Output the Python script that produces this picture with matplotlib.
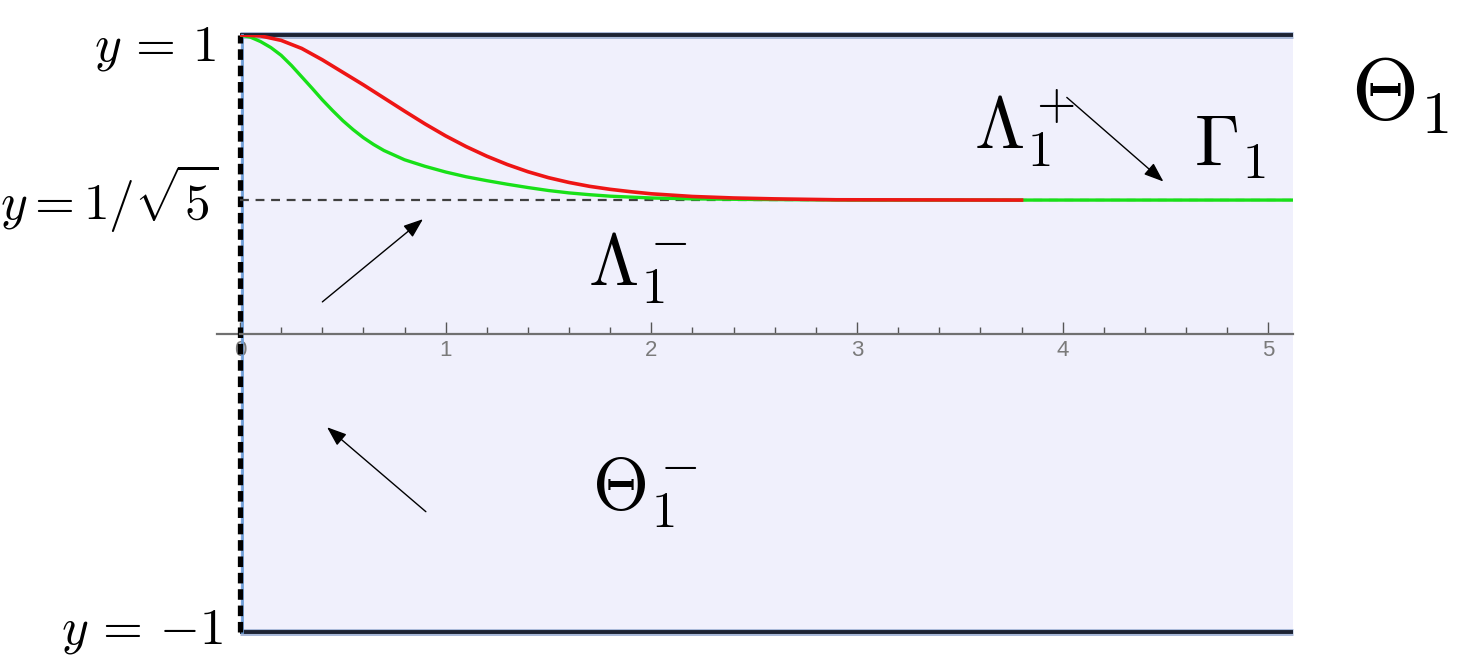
import matplotlib
matplotlib.use("Agg")
import matplotlib.pyplot as plt
import numpy as np

plt.rcParams['mathtext.fontset'] = 'cm'

# curve values
green_x = [0, 0.05, 0.1, 0.15, 0.2, 0.25, 0.3, 0.35, 0.4, 0.45, 0.5, 0.55, 0.6, 0.65, 0.7, 0.8, 0.9,
           1.0, 1.1, 1.2, 1.3, 1.4, 1.5, 1.6, 1.7, 1.8, 1.9, 2.0, 2.2, 2.5, 3.0, 5.12]
green_y = [1.0, 0.993, 0.978, 0.958, 0.932, 0.898, 0.860, 0.822, 0.783, 0.747, 0.713, 0.683, 0.656,
           0.633, 0.613, 0.582, 0.560, 0.541, 0.525, 0.512, 0.500, 0.489, 0.479, 0.471, 0.465, 0.460,
           0.457, 0.454, 0.451, 0.449, 0.447, 0.447]
red_x = [0, 0.1, 0.2, 0.3, 0.4, 0.5, 0.6, 0.7, 0.8, 0.9, 1.0, 1.1, 1.2, 1.3, 1.4, 1.5, 1.6, 1.7,
         1.8, 1.9, 2.0, 2.2, 2.4, 2.6, 2.9, 3.8]
red_y = [1.0, 0.997, 0.982, 0.955, 0.917, 0.875, 0.833, 0.789, 0.745, 0.702, 0.662, 0.626, 0.594,
         0.566, 0.542, 0.522, 0.506, 0.493, 0.483, 0.475, 0.468, 0.459, 0.454, 0.451, 0.448, 0.447]

y_star = 1 / np.sqrt(5)
x_max = 5.12
major_ticks = [0, 1, 2, 3, 4, 5]
minor_ticks = np.arange(0, 5.2, 0.2)

fig = plt.figure(figsize=(14.62, 6.66), dpi=100)
ax = fig.add_axes([240 / 1462, 34 / 666, 1053 / 1462, 597 / 666])
ax.set_facecolor('#f0f0fc')
ax.set_xlim(0, x_max)
ax.set_ylim(-1, 1)
ax.set_yticks([])
for s in ['top', 'right', 'left']:
    ax.spines[s].set_visible(False)
ax.spines['bottom'].set_position(('data', 0))
ax.spines['bottom'].set_color('#707070')
ax.spines['bottom'].set_linewidth(1.6)
ax.plot([-0.11, 0], [0, 0], color='#707070', lw=1.6, clip_on=False)

ax.set_xticks(major_ticks)
ax.set_xticks(minor_ticks, minor=True)
ax.tick_params(axis='x', which='major', direction='in', length=9, width=1, color='#555555',
               labelsize=16, labelcolor='#7a7a7a', pad=5)
ax.tick_params(axis='x', which='minor', direction='in', length=5, width=1, color='#555555')
for lab in ax.get_xticklabels():
    lab.set_family('Liberation Sans')

# boundary lines
for yb in [1, -1]:
    ax.plot([0, x_max], [yb, yb], color='#a8b8d8', lw=5, clip_on=False, solid_capstyle='butt')
    ax.plot([0, x_max], [yb, yb], color='#1c2233', lw=2.8, clip_on=False, solid_capstyle='butt')
ax.plot([0.012, 0.012], [-1, 1], color='#6f9fd8', lw=2, clip_on=False)
ax.plot([0, 0], [-1, 1], color='black', lw=3.8, ls=(0, (2.0, 1.1)), clip_on=False)

ax.plot([0, x_max], [y_star, y_star], color='#404040', lw=1.6, ls=(0, (4, 3)))
ax.plot(green_x, green_y, color='#18e018', lw=2.4)
ax.plot(red_x, red_y, color='#ee1515', lw=2.6)

# arrows
arr = dict(arrowstyle='-|>,head_length=1.2,head_width=0.45', color='black', lw=1)
ax.annotate('', xy=(0.90, 0.389), xytext=(0.39, 0.10), arrowprops=arr)
ax.annotate('', xy=(0.413, -0.308), xytext=(0.914, -0.603), arrowprops=arr)
ax.annotate('', xy=(4.50, 0.503), xytext=(4.01, 0.797), arrowprops=arr)

# labels
ax.text(1.69, 0.161, r'$\Lambda_1^-$', fontsize=52, va='baseline', ha='left')
ax.text(1.71, -0.59, r'$\Theta_1^-$', fontsize=52, va='baseline', ha='left')
ax.text(3.57, 0.62, r'$\Lambda_1^+$', fontsize=52, va='baseline', ha='left')
ax.text(4.64, 0.559, r'$\Gamma_1$', fontsize=52, va='baseline', ha='left')
ax.text(5.40, 0.717, r'$\Theta_1$', fontsize=62, va='baseline', ha='left', clip_on=False)

ax.text(-0.117, 0.915, r'$y\,=\,1$', fontsize=37, va='baseline', ha='right')
ax.text(-0.107, 0.379, r'$y=1/\sqrt{5}$', fontsize=37, va='baseline', ha='right')
ax.text(-0.083, -1.039, r'$y\,=\,{-1}$', fontsize=37, va='baseline', ha='right')

fig.savefig('out.png', dpi=100)
